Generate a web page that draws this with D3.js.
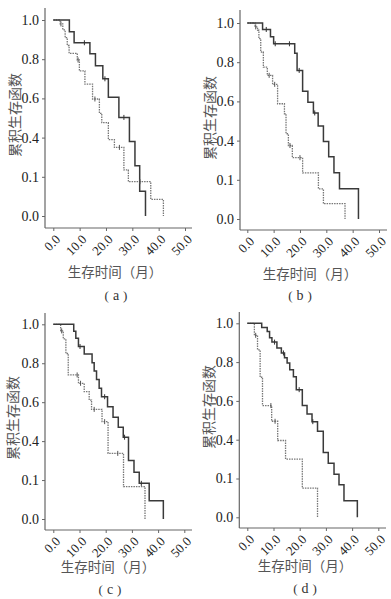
<!DOCTYPE html>
<html>
<head>
<meta charset="utf-8">
<script src="https://cdn.jsdelivr.net/npm/d3@7"></script>
<style>
  body { margin: 0; background: #fff; }
  svg { display: block; }
</style>
</head>
<body>
<div id="chart"></div>
<script>
// tick labels as printed (the 0.2 tick really says 0.1 in the original)
const xTicks = [0, 10, 20, 30, 40, 50];
const xTickLabels = ["0.0", "10.0", "20.0", "30.0", "40.0", "50.0"];
const yTicks = [0, 0.2, 0.4, 0.6, 0.8, 1.0];
const yTickLabels = ["0.0", "0.1", "0.4", "0.6", "0.8", "1.0"];
const xTitle = "生存时间（月）";
const yTitle = "累积生存函数";
const captions = ["a", "b", "c", "d"];

// step points [time, survival]
const aSolid = [[0,1],[6.1,0.94],[7.9,0.884],[13.9,0.828],[16.0,0.766],[18.8,0.70],[20.9,0.606],[24.9,0.503],[28.9,0.38],[31.0,0.256],[32.8,0.126],[35.0,0]];
const aDotted = [[0,1],[2.6,0.98],[3.6,0.95],[4.5,0.91],[5.3,0.87],[6.0,0.83],[9.1,0.796],[9.9,0.74],[12.0,0.673],[14.9,0.597],[17.5,0.524],[18.4,0.476],[20.9,0.39],[23.2,0.35],[26.8,0.235],[28.5,0.175],[37.0,0.085],[41.8,0]];
const bSolid = [[0,1],[5.8,0.967],[8.8,0.93],[10.0,0.894],[18.0,0.846],[18.9,0.758],[21.0,0.652],[23.0,0.596],[25.1,0.541],[26.9,0.475],[28.9,0.396],[30.9,0.317],[32.9,0.236],[35.0,0.154],[42.2,0]];
const bDotted = [[0,1],[2.9,0.98],[3.9,0.963],[4.4,0.92],[5.1,0.852],[6.1,0.775],[7.6,0.733],[9.6,0.687],[11.5,0.588],[14.1,0.537],[14.7,0.435],[15.6,0.375],[17.1,0.313],[21.0,0.235],[27.0,0.154],[28.9,0.078],[37.1,0]];
const cSolid = [[0,1],[7.8,0.964],[8.6,0.928],[9.6,0.886],[11.8,0.848],[14.8,0.803],[15.6,0.76],[16.5,0.717],[17.5,0.671],[18.4,0.628],[20.7,0.577],[22.8,0.522],[24.8,0.471],[26.7,0.42],[28.7,0.30],[30.8,0.24],[32.8,0.183],[36.6,0.094],[42.0,0]];
const cDotted = [[0,1],[2.8,0.966],[3.8,0.925],[4.8,0.85],[5.7,0.74],[9.6,0.697],[11.8,0.654],[13.7,0.611],[14.6,0.563],[18.6,0.50],[20.9,0.337],[26.8,0.166],[35.0,0]];
const dSolid = [[0,1],[5.5,0.978],[7.6,0.958],[8.5,0.926],[9.4,0.903],[11.3,0.873],[13.0,0.847],[14.2,0.823],[15.2,0.795],[16.2,0.76],[17.6,0.724],[18.7,0.658],[21.0,0.576],[22.8,0.532],[24.7,0.493],[26.8,0.443],[29.0,0.334],[30.9,0.278],[33.1,0.222],[35.0,0.168],[36.9,0.085],[42.0,0]];
const dDotted = [[0,1],[2.7,0.938],[3.9,0.863],[4.9,0.722],[5.8,0.576],[9.3,0.495],[11.6,0.396],[14.6,0.30],[21.0,0.15],[26.8,0]];

// censored times (little + marks)
const aSolidCens = [11.8, 19.6, 26.8];
const aDottedCens = [2.9, 9.4, 15.8, 25.1, 32.9];
const bSolidCens = [7.2, 10.6, 16.0, 19.7, 25.6];
const bDottedCens = [3.2, 8.3, 10.4, 16.2, 20.0];
const cSolidCens = [10.2, 19.6, 27.2, 33.6];
const cDottedCens = [3.2, 9.1, 10.4, 15.6, 19.6, 24.6];
const dSolidCens = [10.4, 13.8, 19.8, 25.0];
const dDottedCens = [3.2, 9.0, 10.6];

const W = 391, H = 599;

// where each panel sits on the page
const panels = [
  { solid: aSolid, dotted: aDotted, sc: aSolidCens, dc: aDottedCens,
    ax: 45, top: 8, y1: 20, y0: 216, axY: 228, x0: 53.3, x50: 185, xEnd: 192,
    ytx: 15, yty: 115, xtx: 115, xty: 277, cx: 116, cy: 300 },
  { solid: bSolid, dotted: bDotted, sc: bSolidCens, dc: bDottedCens,
    ax: 240, top: 10, y1: 23, y0: 219, axY: 230, x0: 247.3, x50: 379, xEnd: 387,
    ytx: 210, yty: 118, xtx: 310, xty: 279, cx: 300, cy: 300 },
  { solid: cSolid, dotted: cDotted, sc: cSolidCens, dc: cDottedCens,
    ax: 45, top: 313, y1: 324.3, y0: 519, axY: 530, x0: 53.3, x50: 184.3, xEnd: 192,
    ytx: 13, yty: 418, xtx: 108, xty: 572, cx: 110, cy: 594 },
  { solid: dSolid, dotted: dDotted, sc: dSolidCens, dc: dDottedCens,
    ax: 239.3, top: 312, y1: 323.3, y0: 517.3, axY: 528, x0: 247.3, x50: 378.3, xEnd: 386,
    ytx: 209, yty: 407, xtx: 305, xty: 571, cx: 305, cy: 593 }
];

const svg = d3.select("#chart").append("svg").attr("width", W).attr("height", H);

// step value at time t (for placing censor marks)
function survAt(pts, t) {
  let s = 1;
  pts.forEach(p => { if (p[0] <= t) s = p[1]; });
  return s;
}

panels.forEach((p, i) => {
  const x = d3.scaleLinear().domain([0, 50]).range([p.x0, p.x50]);
  const y = d3.scaleLinear().domain([0, 1]).range([p.y0, p.y1]);
  const g = svg.append("g");

  // axis lines drawn by hand since they go past the scale range
  g.append("line").attr("x1", p.ax).attr("x2", p.ax).attr("y1", p.top).attr("y2", p.axY)
    .attr("stroke", "#666").attr("stroke-width", 1.2);
  g.append("line").attr("x1", p.ax).attr("x2", p.xEnd).attr("y1", p.axY).attr("y2", p.axY)
    .attr("stroke", "#666").attr("stroke-width", 1.2);

  const ya = g.append("g").attr("transform", `translate(${p.ax},0)`)
    .call(d3.axisLeft(y).tickValues(yTicks).tickSize(3).tickPadding(3)
      .tickFormat((d, k) => yTickLabels[k]));
  ya.select(".domain").remove();
  ya.selectAll(".tick line").attr("stroke", "#666");
  ya.selectAll("text").attr("font-family", "'Liberation Serif', serif")
    .attr("font-size", 14).attr("fill", "#222");

  const xa = g.append("g").attr("transform", `translate(0,${p.axY})`)
    .call(d3.axisBottom(x).tickValues(xTicks).tickSize(3)
      .tickFormat((d, k) => xTickLabels[k]));
  xa.select(".domain").remove();
  xa.selectAll(".tick line").attr("stroke", "#666");
  xa.selectAll("text")
    .attr("x", 0).attr("y", 0).attr("dy", "0.35em")
    .attr("transform", "translate(4,9) rotate(-45)")
    .attr("text-anchor", "end")
    .attr("font-family", "'Liberation Serif', serif")
    .attr("font-size", 13).attr("fill", "#222");

  const line = d3.line().x(d => x(d[0])).y(d => y(d[1])).curve(d3.curveStepAfter);

  g.append("path").datum(p.dotted).attr("d", line)
    .attr("fill", "none").attr("stroke", "#777").attr("stroke-width", 1.3)
    .attr("stroke-dasharray", "1.5,1");
  g.append("path").datum(p.solid).attr("d", line)
    .attr("fill", "none").attr("stroke", "#3a3a3a").attr("stroke-width", 1.5);

  // censor ticks
  g.selectAll(".cd").data(p.dc).join("line")
    .attr("x1", d => x(d)).attr("x2", d => x(d))
    .attr("y1", d => y(survAt(p.dotted, d)) - 2.5).attr("y2", d => y(survAt(p.dotted, d)) + 2.5)
    .attr("stroke", "#555").attr("stroke-width", 1);
  g.selectAll(".cs").data(p.sc).join("line")
    .attr("x1", d => x(d)).attr("x2", d => x(d))
    .attr("y1", d => y(survAt(p.solid, d)) - 2.5).attr("y2", d => y(survAt(p.solid, d)) + 2.5)
    .attr("stroke", "#333").attr("stroke-width", 1);

  // titles
  g.append("text").attr("transform", `translate(${p.ytx},${p.yty}) rotate(-90)`)
    .attr("text-anchor", "middle").attr("dy", "0.35em")
    .attr("font-family", "'Noto Sans CJK SC', sans-serif").attr("font-size", 14)
    .attr("fill", "#555").text(yTitle);
  g.append("text").attr("x", p.xtx).attr("y", p.xty)
    .attr("text-anchor", "middle")
    .attr("font-family", "'Noto Sans CJK SC', sans-serif").attr("font-size", 13.5)
    .attr("fill", "#555").text(xTitle);

  // caption: brackets round a serif letter, loosely spaced like the print
  const cap = g.append("text").attr("x", p.cx).attr("y", p.cy)
    .attr("text-anchor", "middle").attr("font-size", 13).attr("fill", "#333")
    .attr("font-family", "'Liberation Serif', serif");
  cap.append("tspan").text("(");
  cap.append("tspan").attr("dx", 4).attr("font-size", 14).text(captions[i]);
  cap.append("tspan").attr("dx", 4).text(")");
});
</script>
</body>
</html>
